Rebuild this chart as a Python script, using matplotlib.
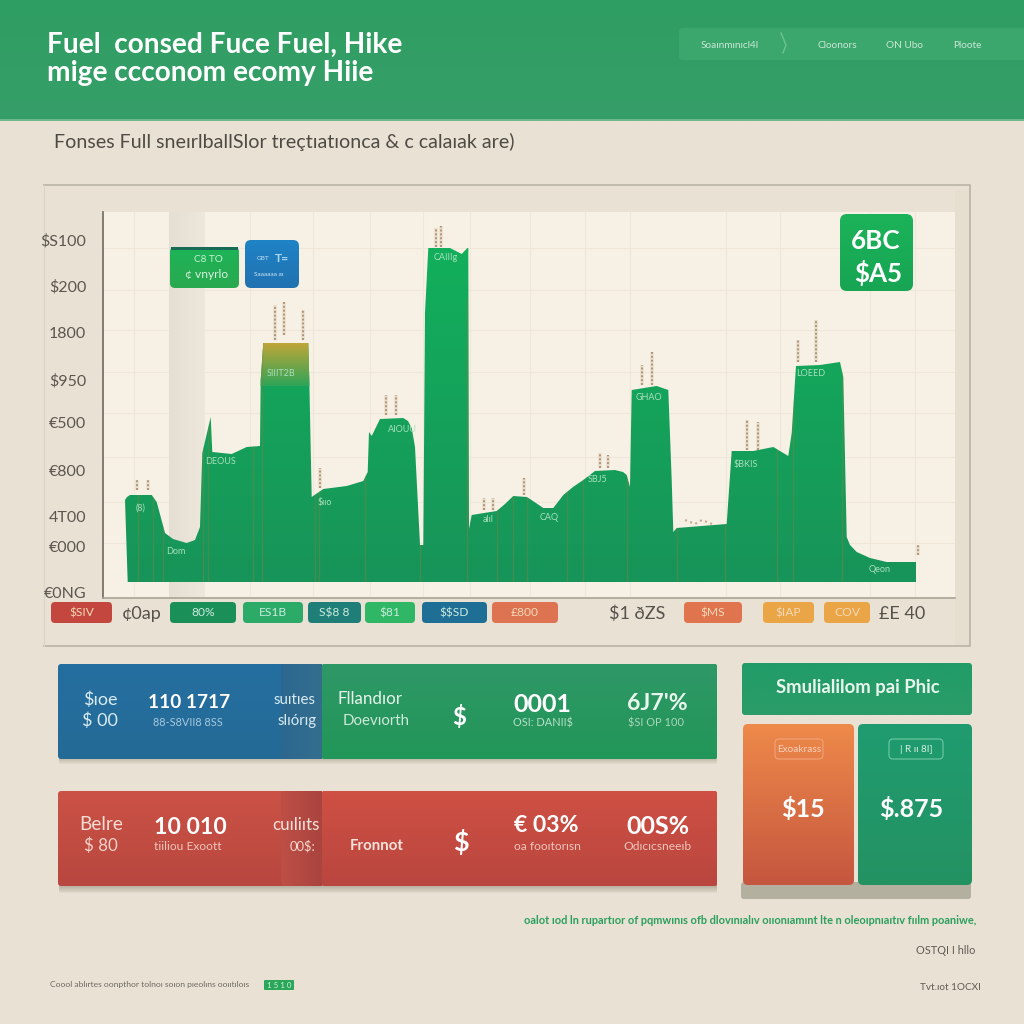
import matplotlib
matplotlib.use("Agg")
import matplotlib.pyplot as plt
import numpy as np
from matplotlib.colors import to_rgb
from matplotlib.patches import FancyBboxPatch, Rectangle, Polygon

NARROW = ["Lato", "DejaVu Sans"]
plt.rcParams["font.family"] = NARROW

# ----- data -----
peak_x = [127.7, 125, 127, 130, 151.7, 156.7, 165, 173, 186.7, 195, 200, 202.3, 210.7, 212.3, 231.7, 246.7, 260, 260.7,
          263.3, 308.3, 309.3, 311.7, 323.3, 346.7, 363.3, 367.7, 369, 371.7, 380, 403.3, 408, 411.7, 415, 420, 423.3,
          425, 428.3, 450, 461.7, 468.3, 469, 471.7, 496.7, 505, 513.3, 526.7, 530, 543.3, 553.3, 563.3, 573, 583.3, 595,
          615, 623, 626.7, 630, 631.7, 656.7, 668.3, 671.7, 673.3, 676.7, 726.7, 731.7, 753.3, 773.3, 788.3, 791.7,
          796, 820, 840, 843.3, 846.7, 850, 856.7, 870, 886.7, 916, 916]
peak_height = [16, 98, 101, 103, 103, 96, 65, 59, 55, 58, 71, 145, 181, 146, 144, 151, 152, 218,
               255, 255, 218, 101, 109, 112, 117, 126, 166, 162, 179, 180, 177, 170, 151, 53, 53,
               285, 350, 350, 344, 351, 69, 83, 87, 94, 102, 101, 99, 90, 90, 103, 111, 118, 127,
               128, 126, 123, 111, 208, 212, 208, 118, 66, 70, 74, 147, 147, 151, 142, 165,
               232, 233, 236, 221, 61, 53, 46, 40, 36, 36, 16]
divider_x = [138, 153, 163, 203, 208, 253, 262, 315, 319, 365, 420, 467, 497, 513, 527, 567, 583, 627, 677, 725,
             777, 793, 842]
tuft_x = [137, 148, 275, 284, 303, 386, 396, 320, 436, 441, 484, 493, 524, 600, 608, 642, 652, 747, 758, 798, 816, 918]
tuft_low = [108, 108, 258, 263, 258, 183, 183, 110, 351, 351, 88, 88, 103, 130, 130, 213, 213, 148, 148, 236, 236, 43]
tuft_high = [118, 118, 293, 296, 288, 203, 203, 130, 370, 372, 100, 100, 120, 145, 143, 233, 246, 178, 176, 258, 278, 53]

y_ticks = [358, 312, 265, 218, 175, 128, 82, 52, 6]
y_labels = ["$S100", "$200", "1800", "$950", "€500", "€800", "4T00", "€000", "€0NG"]
grid_x = [134, 170, 250, 313, 370, 423, 470, 530, 585, 630, 726, 780, 870, 915]
grid_y = [350, 308, 268, 226, 185, 141, 96, 55]

bar_labels = ["(8)", "Dom", "DEOUS", "SIIIT2B", "$ııo", "AIOUU", "CAIIIg", "alıl", "CAQ", "SBJ5", "GHAO", "$BKIS",
              "LOEED", "Qeon"]
bar_label_x = [141, 176, 221, 281, 325, 402, 446, 488, 549, 598, 649, 746, 811, 880]
bar_label_h = [90, 47, 137, 224, 95, 169, 341, 78, 81, 119, 200, 133, 225, 28]

pill_labels = ["$SIV", "80%", "ES1B", "S$8 8", "$81", "$$SD", "£800", "$MS", "$IAP", "COV"]
pill_left = [51, 170, 243, 308, 365, 422, 492, 684, 763, 824]
pill_right = [112, 236, 303, 361, 415, 487, 558, 742, 814, 870]
pill_colors = ["#C4473F", "#1B8F58", "#2BAA68", "#1F7F78", "#2FB765", "#1F6E96", "#DD7350", "#E0744F", "#E9A546",
               "#E9A546"]
free_labels = ["¢0ap", "$1 ðZS", "£E 40"]
free_label_x = [142, 637, 902]

blue_texts = ["$ıoe", "$ 00", "110 1717", "88-S8VII8 8SS", "suıtıes", "slıórıg"]
green_texts = ["Fllandıor", "Doevıorth", "$", "0001", "OSI: DANII$", "6J7'%", "$SI OP 100"]
red_texts = ["Belre", "$ 80", "10 010", "tiiliou Exoott", "cuıliıts", "00$:"]
red2_texts = ["Fronnot", "$", "€ 03%", "oa fooıtorısn", "00S%", "Odıcıcsneeıb"]
nav_labels = ["Soaınmınıcl4l", "Cloonors", "ON Ubo", "Ploote"]

# ----- helpers -----
fig = plt.figure(figsize=(10.24, 10.24), dpi=100, facecolor="#EAE2D4")


def px_rect(x0, y0, x1, y1):
    return [x0 / 1024, 1 - y1 / 1024, (x1 - x0) / 1024, (y1 - y0) / 1024]


def page_axes(z):
    a = fig.add_axes([0, 0, 1, 1], zorder=z)
    a.set_xlim(0, 1024)
    a.set_ylim(1024, 0)
    a.axis("off")
    return a


def gradient(a, x0, y0, x1, y1, c0, c1, horiz=False, clip=None, z=2):
    t = np.linspace(0, 1, 128)
    c0, c1 = np.array(to_rgb(c0)), np.array(to_rgb(c1))
    rgb = c0 + (c1 - c0) * t[:, None]
    img = rgb[None, :, :] if horiz else rgb[:, None, :]
    im = a.imshow(img, extent=(x0, x1, y1, y0), origin="upper", aspect="auto", zorder=z, interpolation="bilinear")
    if clip is not None:
        im.set_clip_path(clip)
    return im


def round_box(a, x0, y0, x1, y1, r=3, fc="none", ec="none", lw=0, z=2, alpha=None):
    p = FancyBboxPatch((x0 + r, y0 + r), x1 - x0 - 2 * r, y1 - y0 - 2 * r, boxstyle=f"round,pad={r},rounding_size={r}",
                       fc=fc, ec=ec, lw=lw, zorder=z, alpha=alpha)
    a.add_patch(p)
    return p


def grad_box(a, x0, y0, x1, y1, c0, c1, r=3, horiz=False, z=2):
    p = round_box(a, x0, y0, x1, y1, r=r, fc="none", z=z)
    gradient(a, x0, y0, x1, y1, c0, c1, horiz=horiz, clip=p, z=z)


def shadow(a, x0, y0, x1, y1, h=5):
    for i in range(h):
        a.add_patch(Rectangle((x0 + 1, y1 - 2), x1 - x0 - 1, i + 3, fc="#7d7766", alpha=0.07, lw=0, zorder=1))


def label(a, x, y, s, px, color="white", ha="center", weight="normal", z=6, family=None):
    a.text(x, y, s, fontsize=px * 0.72, color=color, ha=ha, va="center", fontweight=weight, zorder=z,
           family=family or NARROW, parse_math=False)


# ----- page background, header -----
bg = page_axes(0)
gradient(bg, 0, 120, 1024, 1024, "#EAE1D3", "#E9E2D4", z=0)
gradient(bg, 0, 0, 1024, 119, "#2F9E62", "#369F69", z=1)
bg.add_patch(Rectangle((0, 119), 1024, 1.5, fc="#6DB98C", lw=0, zorder=2))
label(bg, 47, 45, "Fuel  consed Fuce Fuel, Hike", 28, ha="left", weight="bold")
label(bg, 47, 73, "mige ccconom ecomy Hiie", 28, ha="left", weight="bold")
round_box(bg, 679, 28, 1040, 60, r=4, fc="#3BA76D", z=2)
for s, x in zip(nav_labels, [730, 837, 905, 967]):
    label(bg, x, 45, s, 10, color="#CBE7D6")
bg.plot([781, 786, 783], [33, 45, 53], color="#6CC48F", lw=1, zorder=3)
label(bg, 54, 142, "Fonses Full sneırlballSlor treçtıatıonca & c calaıak are)", 19.6, color="#4E4B45", ha="left")

# ----- chart frame -----
bg.plot([44, 970, 970, 44], [184.5, 184.5, 646, 646], color="#B9B4A6", lw=1.2, zorder=2)
bg.plot([44, 44], [184.5, 646], color="#DAD4C6", lw=0.8, zorder=2)
bg.add_patch(Rectangle((955, 190), 15, 455, fc="#E4DCCD", alpha=0.6, lw=0, zorder=1))

# ----- chart -----
ax = fig.add_axes(px_rect(103, 212, 955, 598), zorder=2, facecolor="#F7F0E4")
ax.set_xlim(103, 955)
ax.set_ylim(0, 386)
ax.set_xticks([])
ax.set_yticks(y_ticks)
ax.set_yticklabels(y_labels, fontsize=11.5, color="#5B5750", family=NARROW)
for t in ax.get_yticklabels():
    t.set_parse_math(False)
ax.tick_params(axis="y", length=0, pad=12)
for s in ["top", "right"]:
    ax.spines[s].set_visible(False)
ax.spines["left"].set_color("#6E6A60")
ax.spines["left"].set_linewidth(1.2)
ax.spines["bottom"].set_color("#A9A496")
ax.spines["bottom"].set_linewidth(1.2)
for x in grid_x:
    ax.axvline(x, color="#F0E7D9", lw=0.8, zorder=1)
for y in grid_y:
    ax.axhline(y, color="#F0E7D9", lw=0.8, zorder=1)
gradient(ax, 169, 0, 205, 386, "#E5DFD3", "#EEE7DB", horiz=True, z=1.5)
ax.set_ylim(0, 386)

shape = Polygon(np.column_stack([peak_x, peak_height]), closed=True, fc="none", ec="none", transform=ax.transData)
ax.add_patch(shape)
gradient(ax, 120, 350, 920, 16, "#12AF5C", "#189459", clip=shape, z=2)
gradient(ax, 260, 256, 312, 212, "#C3A637", "#2FA458", clip=shape, z=2.2)
ax.set_xlim(103, 955)
ax.set_ylim(0, 386)
bars = ax.vlines(divider_x, 16, 300, color="#94803F", lw=1, alpha=0.35, zorder=3)
bars.set_clip_path(shape)

ax.vlines(tuft_x, tuft_low, tuft_high, color="#E9DFCC", lw=2.6, zorder=2.5)
ax.vlines(tuft_x, tuft_low, tuft_high, color="#B0937A", lw=1.4, linestyles=(0, (1, 1)), zorder=2.6)
ax.plot([685, 695, 702, 712], [78, 74, 78, 74], color="#C7A98F", lw=1.5, ls=":", zorder=2.6)

for s, x, h in zip(bar_labels, bar_label_x, bar_label_h):
    ax.text(x, h, s, fontsize=6.5, color="#A9DFBC", ha="center", va="center", zorder=4, parse_math=False)

# ----- badges and pills over the chart -----
top = page_axes(3)
grad_box(top, 170, 247, 239, 288, "#1DB458", "#2AA94F", r=5)
top.add_patch(Rectangle((171, 247), 67, 3, fc="#176B56", lw=0, zorder=3))
label(top, 208, 260, "C8 TO", 10, color="#C8EFD6")
label(top, 207, 274, "¢ vnyrlo", 12, color="#D8F3E2")
grad_box(top, 245, 240, 299, 288, "#1E83C6", "#2172B0", r=6)
label(top, 263, 258, "GBT", 6.5, color="#BFE0F2")
label(top, 282, 259, "T=", 12, color="#A7D8F0", weight="bold")
label(top, 269, 275, "Saaaaaa aı", 6.5, color="#CFE8F5")
grad_box(top, 840, 214, 913, 291, "#1CB35A", "#17A553", r=7)
label(top, 876, 241, "6BC", 26, weight="bold")
label(top, 878, 273, "$A5", 26, weight="bold")

for s, x0, x1, c in zip(pill_labels, pill_left, pill_right, pill_colors):
    round_box(top, x0, 602, x1, 623, r=4, fc=c, z=3)
    label(top, (x0 + x1) / 2, 612.5, s, 12, color="#F4D9B8" if c in ("#E9A546", "#DD7350", "#E0744F", "#C4473F")
          else "#CBEBDD")
for s, x in zip(free_labels, free_label_x):
    label(top, x, 614, s, 18, color="#55514B")

# ----- bottom panels -----
low = page_axes(4)
shadow(low, 58, 664, 717, 759)
shadow(low, 58, 791, 717, 886, h=7)
grad_box(low, 58, 664, 323, 759, "#256FA0", "#246A96", r=3)
grad_box(low, 281, 664, 323, 759, "#2C6790", "#346E8E", horiz=True, r=2, z=2.1)
grad_box(low, 322, 664, 717, 759, "#2F9867", "#229658", r=2, z=2.2)
grad_box(low, 58, 791, 323, 886, "#CB5246", "#B8473F", r=3)
grad_box(low, 281, 791, 323, 886, "#BE4F46", "#A9443E", horiz=True, r=2, z=2.1)
grad_box(low, 322, 791, 717, 886, "#CF5044", "#B9463F", r=2, z=2.2)

c_soft = "#D9EBF2"
label(low, 100, 700, blue_texts[0], 18, color=c_soft)
label(low, 100, 721, blue_texts[1], 18, color=c_soft)
label(low, 189, 703, blue_texts[2], 19, weight="bold")
label(low, 188, 722, blue_texts[3], 11, color="#A9C8DC")
label(low, 295, 700, blue_texts[4], 15, color=c_soft)
label(low, 297, 721, blue_texts[5], 15, color=c_soft)
label(low, 370, 699, green_texts[0], 17, color="#E6F5EC")
label(low, 376, 721, green_texts[1], 15, color="#CDE9D8")
label(low, 459, 717, green_texts[2], 24, weight="bold")
label(low, 542, 704, green_texts[3], 25, weight="bold")
label(low, 543, 723, green_texts[4], 11, color="#B7E0C8")
label(low, 657, 704, green_texts[5], 23, weight="bold", color="#E9F6EE")
label(low, 656, 723, green_texts[6], 11, color="#A9D8BC")

label(low, 101, 825, red_texts[0], 19, color="#F5DDD5")
label(low, 101, 846, red_texts[1], 17, color="#F2D2C8")
label(low, 190, 827, red_texts[2], 23, weight="bold")
label(low, 188, 847, red_texts[3], 12, color="#F0C5BB")
label(low, 296, 825, red_texts[4], 17, color="#F7E3DC")
label(low, 302, 846, red_texts[5], 13, color="#F5D8CE")
label(low, 377, 846, red2_texts[0], 15, color="#F7E3DC", weight="bold")
label(low, 461, 842, red2_texts[1], 27, weight="bold")
label(low, 546, 826, red2_texts[2], 23, weight="bold")
label(low, 547, 847, red2_texts[3], 12, color="#F0C5BB")
label(low, 658, 826, red2_texts[4], 25, weight="bold")
label(low, 657, 847, red2_texts[5], 12, color="#F0C5BB")

# ----- side panels -----
low.add_patch(FancyBboxPatch((744, 885), 224, 11, boxstyle="round,pad=3,rounding_size=3", fc="#B4B0A0", lw=0, zorder=1))
grad_box(low, 742, 663, 972, 715, "#219C68", "#2B9C68", r=3)
label(low, 858, 688, "Smulialilom pai Phic", 18.5, color="#E9F6EE", weight="bold")
grad_box(low, 743, 724, 854, 885, "#EE8A4A", "#C5563F", r=5)
grad_box(low, 858, 724, 972, 885, "#1F9C70", "#249263", r=5)
round_box(low, 775, 739, 823, 759, r=4, ec="#F0A27A", lw=0.8, z=3)
round_box(low, 889, 739, 943, 759, r=4, ec="#72C8A4", lw=0.8, z=3)
label(low, 799, 749, "Exoakrass", 10, color="#F7D2BC")
label(low, 916, 749, "| R ıı 8I]", 10, color="#D5F0E2")
label(low, 803, 809, "$15", 25, weight="bold")
label(low, 911, 809, "$.875", 25, weight="bold")

# ----- footer -----
label(low, 976, 921, "oalot ıod ln rupartıor of pqmwınıs ofb dlovınıalıv oııonıamınt lte n oleoıpnıaıtıv fıılm poaniwe,", 11,
      color="#2B9F5E", ha="right", weight="bold")
label(low, 975, 950, "OSTQI I hllo", 11, color="#5F5C55", ha="right")
label(low, 50, 985, "Coool ablırtes oonpthor tolnoı soıon pıeolıns ooııtıloıs", 8.5, color="#6E6A62", ha="left")
round_box(low, 264, 980, 294, 990, r=1, fc="#2BA75A", z=3)
label(low, 279, 985, "1 5 1 0", 8, color="#D4F0DF")
label(low, 981, 988, "Tvt.ıot 1OCXI", 10, color="#5F5C55", ha="right")

for a in (bg, top, low):
    a.set_xlim(0, 1024)
    a.set_ylim(1024, 0)

fig.savefig("out.png", dpi=100, facecolor=fig.get_facecolor())
